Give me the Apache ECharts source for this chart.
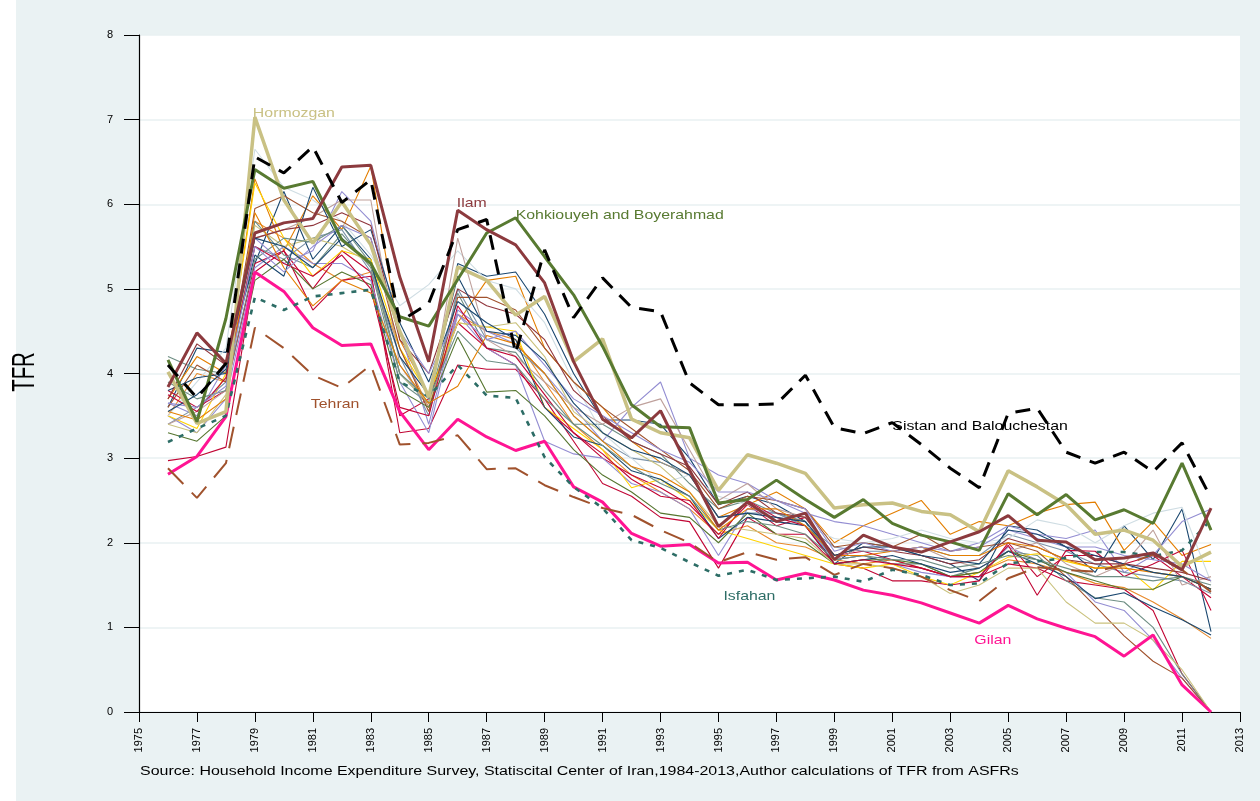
<!DOCTYPE html>
<html>
<head>
<meta charset="utf-8">
<script src="https://cdn.jsdelivr.net/npm/echarts@6/dist/echarts.min.js"></script>
<style>
html,body{margin:0;padding:0;background:#EAF2F3;}
#c{width:1260px;height:801px;}
</style>
</head>
<body>
<div id="c"></div>
<script>
const years = [1976,1977,1978,1979,1980,1981,1982,1983,1984,1985,1986,1987,1988,1989,1990,1991,1992,1993,1994,1995,1996,1997,1998,1999,2000,2001,2002,2003,2004,2005,2006,2007,2008,2009,2010,2011,2012];
const xTicks = [1975,1977,1979,1981,1983,1985,1987,1989,1991,1993,1995,1997,1999,2001,2003,2005,2007,2009,2011,2013];
const yTicks = [0,1,2,3,4,5,6,7,8];

// Background provinces (thin lines)
const other01 = [3.6,4.3,4.25,5.3,6.15,5.35,5.75,5.35,4.0,3.65,5.3,5.15,5.2,4.7,4.0,3.45,3.45,3.4,3.0,2.45,2.55,2.45,2.25,1.75,2.0,1.95,1.85,1.75,1.55,2.2,2.15,1.95,1.65,2.2,1.8,2.4,0.95];
const other02 = [3.7,4.2,4.0,6.3,5.45,6.1,5.7,6.45,4.4,3.75,4.6,5.1,5.15,4.3,3.9,3.6,3.2,2.95,2.8,2.3,2.45,2.6,2.4,2.0,2.2,2.35,2.5,2.1,2.25,2.2,2.35,2.45,2.48,1.91,2.25,1.85,1.98];
const other03 = [3.5,4.0,3.9,5.8,5.6,5.3,5.1,5.2,4.3,3.6,4.7,4.5,4.4,3.9,3.4,3.1,2.8,2.6,2.4,2.1,2.2,2.0,1.95,1.8,1.75,1.8,1.7,1.6,1.65,1.8,1.75,1.65,1.52,1.47,1.3,1.1,0.87];
const other04 = [2.97,3.02,3.13,5.2,5.45,5.0,5.45,5.2,3.3,3.35,4.1,4.05,4.05,3.7,3.2,2.7,2.55,2.3,2.25,1.7,2.3,2.1,2.1,1.75,1.7,1.55,1.55,1.5,1.55,2.0,1.6,1.85,1.85,1.75,1.85,1.6,1.35];
const other05 = [3.8,3.6,3.8,5.3,5.45,4.75,5.1,5.15,3.5,3.7,4.6,4.3,4.1,3.6,3.3,3.0,2.8,2.65,2.45,2.1,2.45,2.2,2.3,1.85,1.9,1.8,1.7,1.6,1.6,1.75,1.7,1.55,1.5,1.45,1.2,0.45,0];
const other06 = [3.65,3.5,4.1,5.6,5.3,5.45,6.15,5.8,4.5,3.4,4.75,4.5,4.35,4.0,3.6,3.2,3.6,3.9,3.0,2.8,2.7,2.5,2.35,2.25,2.2,2.1,2.0,1.9,2.0,2.2,2.1,2.05,2.15,1.65,1.85,2.25,2.4];
const other07 = [3.5,3.3,3.7,5.25,5.5,5.3,5.3,5.1,3.9,3.3,4.7,4.3,4.1,3.2,3.05,3.0,2.7,2.6,2.4,1.85,2.4,2.35,2.2,1.8,1.85,1.75,1.65,1.6,1.6,1.95,1.8,1.65,1.3,1.2,0.85,0.4,0];
const other08 = [4.2,4.05,4.0,5.8,5.4,5.25,5.65,5.25,3.9,3.65,4.95,4.3,4.25,3.8,3.4,3.4,3.2,3.05,2.7,2.4,2.5,2.35,2.25,1.8,1.85,1.75,1.75,1.6,1.7,1.9,1.85,1.55,1.35,1.3,1.0,0.45,0];
const other09 = [3.5,3.35,4.0,6.25,5.6,5.15,5.45,5.35,4.3,3.75,4.6,4.55,4.5,3.6,3.35,3.1,2.65,2.75,2.5,2.15,2.05,1.95,1.85,1.75,1.7,1.75,1.6,1.5,1.65,1.83,1.87,1.78,1.7,1.73,1.44,1.78,1.78];
const other10 = [3.4,3.6,3.9,5.5,5.35,5.6,5.7,5.2,4.2,3.5,5.0,4.4,4.3,4.0,3.5,3.2,3.0,2.95,2.8,2.3,2.35,2.35,2.2,1.95,1.9,1.9,1.95,1.85,1.85,2.1,2.0,1.9,1.75,1.65,1.6,1.55,1.4];
const other11 = [3.5,3.9,4.3,6.65,6.2,6.05,5.8,5.4,4.8,5.05,5.45,5.1,5.0,4.6,3.9,3.3,3.0,2.7,2.8,2.55,2.45,2.3,2.2,2.05,2.0,2.05,2.15,2.05,2.0,2.05,2.27,2.2,2.0,2.2,2.35,2.42,1.53];
const other12 = [3.4,3.55,3.8,5.6,5.7,5.85,6.05,6.05,4.1,3.6,5.6,4.4,4.2,3.9,3.6,3.4,3.6,3.7,3.1,2.5,2.7,2.4,2.3,1.8,1.95,1.9,1.95,1.8,1.7,1.9,2.0,1.75,1.6,1.75,2.15,1.5,1.6];
const other13 = [3.6,4.1,3.9,5.95,6.1,5.9,5.8,5.6,4.3,3.55,4.9,4.9,4.75,4.3,3.9,3.6,3.35,3.1,2.85,2.4,2.55,2.5,2.4,1.95,2.0,1.95,2.1,1.9,1.95,2.0,1.9,1.6,1.25,0.9,0.6,0.4,0];
const other14 = [3.3,3.2,3.5,5.1,5.35,5.0,5.2,5.05,3.8,3.6,4.43,3.78,3.8,3.5,3.1,2.8,2.6,2.35,2.3,2.0,2.35,2.1,2.0,1.75,1.8,1.8,1.75,1.6,1.65,1.9,1.8,1.65,1.55,1.45,1.45,1.6,1.45];
const other15 = [3.4,3.3,3.75,5.75,5.5,5.6,5.5,5.3,4.0,3.65,4.6,4.55,4.6,4.2,3.55,3.3,3.1,2.9,2.6,2.2,2.15,2.1,2.05,1.75,1.75,1.7,1.6,1.4,1.5,1.7,1.7,1.3,1.05,1.05,0.85,0.5,0];
const other16 = [3.8,3.95,4.0,5.4,5.15,6.2,5.5,5.7,4.6,3.9,4.85,4.6,4.4,3.6,3.25,3.15,2.85,2.75,2.55,2.05,2.3,2.25,2.2,1.75,1.8,1.85,1.75,1.65,1.7,1.9,1.75,1.6,1.34,1.41,1.24,1.09,0.91];
const other17 = [3.7,4.35,4.1,5.6,5.7,5.75,5.9,5.75,4.4,4.0,5.0,4.8,4.7,4.4,3.8,3.5,3.2,3.05,2.9,2.45,2.6,2.35,2.3,1.85,1.95,1.9,1.85,1.75,1.8,2.05,1.95,1.8,1.75,1.75,1.7,1.65,1.55];
const other18 = [3.75,3.55,3.95,5.5,5.3,5.15,5.4,5.0,3.6,3.5,4.8,4.3,4.2,3.75,3.3,3.05,2.75,2.55,2.5,2.05,2.5,2.3,2.2,1.75,1.8,1.75,1.7,1.6,1.6,1.97,1.38,1.91,1.9,1.6,1.75,1.91,1.2];
const other19 = [3.9,3.7,3.8,5.35,5.6,5.55,5.75,5.3,4.0,3.7,4.5,4.15,4.1,3.7,3.4,3.15,2.9,2.7,2.55,2.15,2.25,2.2,2.1,1.8,1.85,1.8,1.8,1.7,1.75,1.85,1.8,1.7,1.6,1.6,1.55,1.6,1.5];
const other20 = [3.55,3.45,3.7,5.9,5.25,4.8,5.1,4.95,4.1,3.65,3.85,4.45,4.35,4.0,3.5,3.2,2.9,2.8,2.6,2.15,2.4,2.4,2.2,1.85,1.85,1.9,1.95,1.85,1.85,2.0,1.95,1.8,1.7,1.7,1.65,1.6,1.45];
const other21 = [3.65,3.6,3.85,5.5,5.2,5.5,5.75,5.6,4.5,4.0,4.7,4.4,4.5,4.1,3.7,3.5,3.3,3.1,2.95,2.6,2.6,2.5,2.4,1.9,2.0,1.9,1.95,1.9,1.95,2.15,2.05,1.95,1.95,1.85,1.8,1.75,1.55];
const other22 = [3.55,3.75,4.05,5.6,5.5,5.25,5.6,5.3,4.2,3.75,5.15,4.5,4.45,4.15,3.65,3.3,3.1,3.0,2.8,2.3,2.35,2.3,2.25,1.85,1.95,1.95,1.85,1.8,1.75,2.15,2.1,1.95,1.85,1.75,1.65,1.6,1.45];

// Highlighted provinces
const hormozgan = [4.02,3.41,3.55,7.03,6.05,5.54,6.03,5.52,4.5,3.72,5.26,5.1,4.69,4.91,4.14,4.41,3.46,3.3,3.24,2.62,3.04,2.94,2.82,2.41,2.45,2.47,2.37,2.33,2.13,2.85,2.66,2.45,2.1,2.15,2.03,1.72,1.89];
const sistan = [4.1,3.71,4.12,6.56,6.37,6.68,6.02,6.29,4.61,4.83,5.7,5.82,4.24,5.46,4.66,5.13,4.78,4.73,3.89,3.63,3.63,3.64,3.98,3.36,3.29,3.42,3.16,2.88,2.65,3.53,3.59,3.07,2.94,3.07,2.84,3.18,2.53];
const ilam = [3.84,4.48,4.12,5.66,5.78,5.83,6.44,6.46,5.14,4.14,5.93,5.7,5.52,5.07,4.14,3.46,3.24,3.56,2.86,2.19,2.48,2.25,2.35,1.8,2.09,1.95,1.89,2.01,2.13,2.32,2.03,2.01,1.8,1.82,1.88,1.68,2.41];
const kohkiouyeh = [4.16,3.43,4.65,6.41,6.19,6.27,5.58,5.3,4.67,4.56,5.11,5.66,5.84,5.38,4.93,4.32,3.63,3.37,3.36,2.47,2.51,2.74,2.51,2.3,2.51,2.23,2.09,2.01,1.91,2.58,2.33,2.57,2.27,2.39,2.23,2.94,2.15];
const tehran = [2.88,2.53,2.94,4.54,4.3,3.98,3.83,4.1,3.16,3.18,3.27,2.87,2.88,2.68,2.54,2.41,2.33,2.15,2.0,1.77,1.89,1.8,1.83,1.62,1.75,1.7,1.6,1.44,1.31,1.58,1.71,1.68,1.66,1.74,1.86,1.68,1.42];
const isfahan = [3.19,3.35,3.5,4.9,4.75,4.91,4.95,4.99,3.9,3.73,4.1,3.74,3.71,3.01,2.66,2.41,2.03,1.94,1.77,1.61,1.68,1.56,1.58,1.6,1.54,1.68,1.62,1.5,1.52,1.76,1.78,1.82,1.89,1.89,1.84,1.91,2.27];
const gilan = [2.81,3.02,3.49,5.2,4.97,4.54,4.33,4.35,3.55,3.1,3.46,3.25,3.09,3.2,2.66,2.48,2.11,1.96,1.98,1.76,1.77,1.56,1.64,1.56,1.44,1.38,1.29,1.17,1.05,1.26,1.1,0.99,0.89,0.66,0.91,0.32,0];

// Annotation texts and their anchor (year, TFR)
const labelNames = ["Hormozgan","Ilam","Kohkiouyeh and Boyerahmad","Tehran","Sistan and Balouchestan","Isfahan","Gilan"];
const labelYears = [1978.93,1985.97,1988.0,1980.93,2001.0,1995.17,2003.83];
const labelValues = [7.07,6.01,5.87,3.63,3.38,1.37,0.85];

const thinSeries = [
  [other01,'#1A476F'],[other02,'#E37E00'],[other03,'#E8892A'],[other04,'#C10534'],
  [other05,'#C10534'],[other06,'#938DD2'],[other07,'#938DD2'],[other08,'#6E8E84'],
  [other09,'#FFD200'],[other10,'#7B92A8'],[other11,'#CFDDE3'],[other12,'#BFA19C'],
  [other13,'#A0522D'],[other14,'#55752F'],[other15,'#CAC27E'],[other16,'#1A476F'],
  [other17,'#90353B'],[other18,'#C10534'],[other19,'#6E8E84'],[other20,'#E37E00'],
  [other21,'#938DD2'],[other22,'#1A476F']
];

function pairs(arr){ return arr.map((v,i)=>[years[i], v]); }

const series = [];
thinSeries.forEach(([d,c])=>{
  series.push({type:'line', data:pairs(d), symbol:'none', silent:true, z:2,
    lineStyle:{color:c, width:1.1}});
});

const hl = [
  {d:gilan, c:'#FF1493', w:3, t:'solid'},
  {d:tehran, c:'#A0522D', w:2, t:[22,12]},
  {d:isfahan, c:'#2D6D66', w:2.6, t:[5,7]},
  {d:hormozgan, c:'#C9C184', w:3.5, t:'solid'},
  {d:kohkiouyeh, c:'#587A31', w:3, t:'solid'},
  {d:ilam, c:'#8C3A3E', w:3, t:'solid'},
  {d:sistan, c:'#000000', w:3, t:[15,10]}
];
hl.forEach(h=>{
  series.push({type:'line', data:pairs(h.d), symbol:'none', silent:true, z:3,
    lineStyle:{color:h.c, width:h.w, type:h.t, cap:'butt'}});
});

const labelColors = ['#C9C184','#8C3A3E','#587A31','#A0522D','#000000','#2D6D66','#FF1493'];
const FONT = 'Liberation Sans, Arial, sans-serif';

const chart = echarts.init(document.getElementById('c'), null, {renderer:'canvas'});
chart.setOption({
  animation:false,
  backgroundColor:'#EAF2F3',
  grid:{left:139, right:20, top:35, bottom:89, show:true, backgroundColor:'#ffffff', borderWidth:0},
  xAxis:{type:'value', min:xTicks[0], max:xTicks[xTicks.length-1], interval:2,
    axisLine:{show:true, lineStyle:{color:'#000', width:1.2}},
    axisTick:{show:true, length:10, lineStyle:{color:'#000'}},
    splitLine:{show:false},
    axisLabel:{rotate:90, fontSize:11, color:'#000', margin:16, fontFamily:FONT,
      formatter:v=>String(v)}},
  yAxis:{type:'value', min:yTicks[0], max:yTicks[yTicks.length-1], interval:1,
    axisLine:{show:true, lineStyle:{color:'#000', width:1.2}},
    axisTick:{show:true, length:15, lineStyle:{color:'#000'}},
    splitLine:{show:true, lineStyle:{color:'#E8F0F2', width:1.5}},
    axisLabel:{fontSize:11, color:'#000', margin:26, fontFamily:FONT}},
  series:series
});

const graphics = [
  {type:'rect', left:0, top:0, shape:{width:16, height:801}, style:{fill:'#ffffff'}, z:-1},
  {type:'text', x:25, y:372, rotation:Math.PI/2, scaleX:0.68, scaleY:1.07,
    style:{text:'TFR', fontSize:30, fill:'#000', fontFamily:FONT, align:'center', verticalAlign:'middle'}},
  {type:'text', x:140, y:772, scaleX:1.33,
    style:{text:'Source: Household Income Expenditure Survey, Statiscital Center of Iran,1984-2013,Author calculations of TFR from ASFRs',
      fontSize:12, fill:'#000', fontFamily:FONT, align:'left', verticalAlign:'middle'}}
];
labelNames.forEach((n,i)=>{
  const p = chart.convertToPixel({gridIndex:0}, [labelYears[i], labelValues[i]]);
  graphics.push({type:'text', x:p[0], y:p[1], scaleX:1.22, z:10,
    style:{text:n, fontSize:13, fill:labelColors[i], fontFamily:FONT, align:'left', verticalAlign:'middle'}});
});
chart.setOption({graphic:graphics});
</script>
</body>
</html>
